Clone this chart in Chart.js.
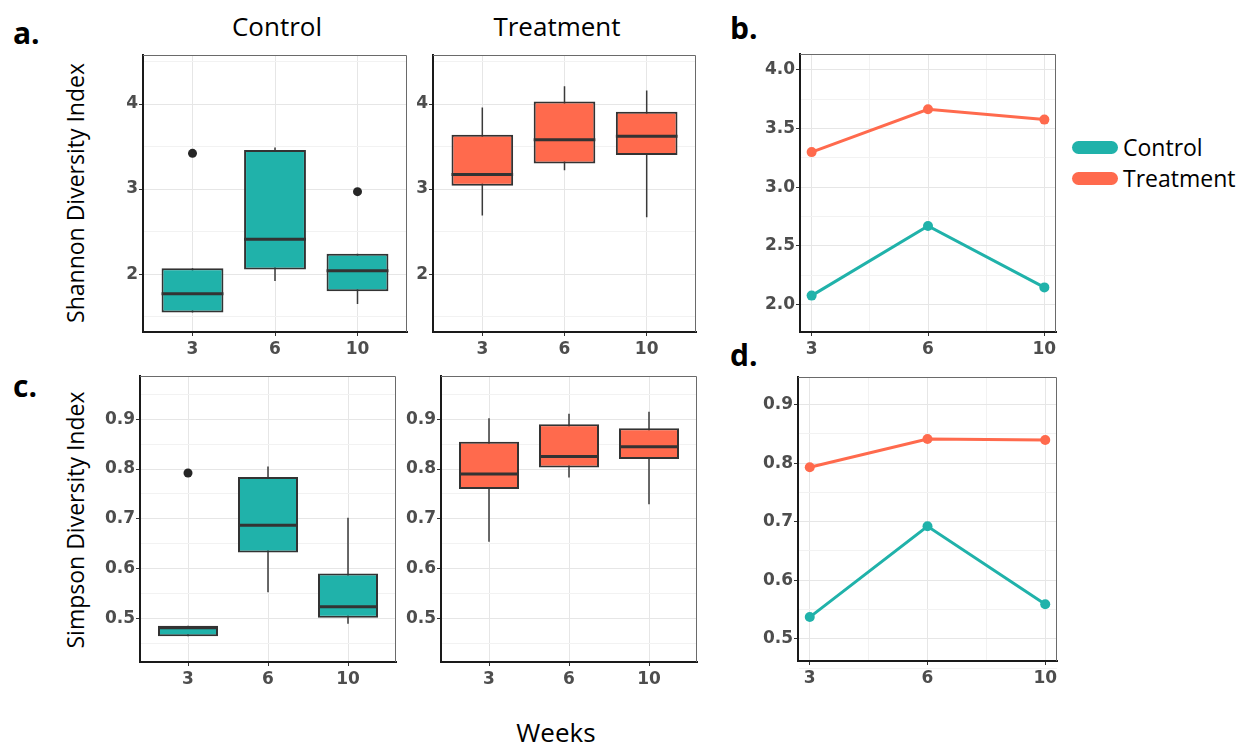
<!DOCTYPE html>
<html>
<head>
<meta charset="UTF-8">
<title>Shannon and Simpson diversity</title>
<script src="https://cdn.jsdelivr.net/npm/chart.js"></script>
<style>
    body {
        margin: 0;
        width: 1247px;
        height: 744px;
        position: relative;
        overflow: hidden;
        background: #fff;
        font-family: "Open Sans", sans-serif;
        color: #000;
    }
    .panel { position: absolute; }
    .txt { position: absolute; line-height: 1; white-space: nowrap; }
    .mid { transform: translate(-50%, -50%); }
    .tag { font-weight: bold; font-size: 30px; }
    .head { font-size: 26px; }
    .ytitle { font-size: 23px; transform: translate(-50%, -50%) rotate(-90deg); }
    .key { position: absolute; width: 46px; height: 13px; border-radius: 7px; }
    .keytxt { font-size: 23px; }
</style>
</head>
<body>
    <div class="txt tag" style="left:13px; top:18px;">a.</div>
    <div class="txt tag" style="left:730px; top:13px;">b.</div>
    <div class="txt tag" style="left:13px; top:371px;">c.</div>
    <div class="txt tag" style="left:730px; top:340px;">d.</div>

    <div class="txt head mid" style="left:277px; top:26px;">Control</div>
    <div class="txt head mid" style="left:557px; top:26px;">Treatment</div>
    <div class="txt ytitle" style="left:75px; top:193px;">Shannon Diversity Index</div>
    <div class="txt ytitle" style="left:75px; top:520px;">Simpson Diversity Index</div>
    <div class="txt head mid" style="left:556px; top:732px;">Weeks</div>

    <div class="key" style="left:1072px; top:141px; background:#20B2AA;"></div>
    <div class="txt keytxt" style="left:1123px; top:136px;">Control</div>
    <div class="key" style="left:1072px; top:172px; background:#FF6A4D;"></div>
    <div class="txt keytxt" style="left:1123px; top:167px;">Treatment</div>

    <div class="panel" id="pA"><canvas id="shanCtrl"></canvas></div>
    <div class="panel" id="pB"><canvas id="shanTreat"></canvas></div>
    <div class="panel" id="pb"><canvas id="shanLine"></canvas></div>
    <div class="panel" id="pC"><canvas id="simpCtrl"></canvas></div>
    <div class="panel" id="pD"><canvas id="simpTreat"></canvas></div>
    <div class="panel" id="pd"><canvas id="simpLine"></canvas></div>

<script>
    // 주차
    const weeks = ['3', '6', '10'];

    // box stats per week: [lower whisker, Q1, median, Q3, upper whisker]
    const shannonControl = [[1.55, 1.55, 1.77, 2.07, 2.07], [1.92, 2.055, 2.41, 3.46, 3.49], [1.65, 1.80, 2.04, 2.24, 2.24]];
    const shannonControlOut = [[0, 3.42], [2, 2.97]];   // [week index, value]
    const shannonTreatment = [[2.69, 3.04, 3.17, 3.64, 3.96], [3.22, 3.30, 3.58, 4.03, 4.21], [2.67, 3.40, 3.62, 3.91, 4.16]];
    const shannonTreatmentOut = [];

    const simpsonControl = [[0.464, 0.464, 0.481, 0.485, 0.485], [0.552, 0.632, 0.687, 0.784, 0.805], [0.489, 0.501, 0.523, 0.590, 0.702]];
    const simpsonControlOut = [[0, 0.792]];
    const simpsonTreatment = [[0.654, 0.760, 0.790, 0.855, 0.902], [0.783, 0.803, 0.825, 0.890, 0.911], [0.729, 0.820, 0.845, 0.882, 0.915]];
    const simpsonTreatmentOut = [];

    // means (panels b, d)
    const shannonMeanControl = [2.077, 2.67, 2.147];
    const shannonMeanTreatment = [3.30, 3.665, 3.577];
    const simpsonMeanControl = [0.537, 0.692, 0.559];
    const simpsonMeanTreatment = [0.793, 0.841, 0.8395];

    // axis ticks
    const shannonBoxTicks = [2, 3, 4];
    const shannonBoxMinor = [1.5, 2.5, 3.5, 4.5];
    const shannonLineTicks = [2.0, 2.5, 3.0, 3.5, 4.0];
    const shannonLineMinor = [2.25, 2.75, 3.25, 3.75];
    const simpsonTicks = [0.5, 0.6, 0.7, 0.8, 0.9];
    const simpsonMinor = [0.45, 0.55, 0.65, 0.75, 0.85, 0.95];
    const weekMinor = [0.5, 1.5];

    const TEAL = '#20B2AA';
    const CORAL = '#FF6A4D';
    const INK = '#333333';
    const tickFont = { family: 'DejaVu Sans', size: 17, weight: 'bold' };
    const tickColor = '#4d4d4d';

    // plot area boxes [left, top, width, height]
    const YW = 60, PAD = 24, XH = 40;
    function place(id, l, t, w, h) {
        const el = document.getElementById(id);
        el.style.left = (l - YW) + 'px';
        el.style.top = (t - PAD) + 'px';
        el.style.width = (w + YW + PAD) + 'px';
        el.style.height = (h + PAD + XH) + 'px';
    }
    place('pA', 143, 55, 264, 277);
    place('pB', 433, 55, 263, 277);
    place('pb', 800, 54, 256, 278);
    place('pC', 140, 376, 256, 286);
    place('pD', 441, 376, 256, 286);
    place('pd', 798, 377, 259, 284);

    // 위/오른쪽 테두리
    const frame = {
        id: 'frame',
        afterDatasetsDraw(chart) {
            const { ctx, chartArea: a } = chart;
            ctx.save();
            ctx.strokeStyle = '#6a6a6a';
            ctx.lineWidth = 1;
            ctx.beginPath();
            ctx.moveTo(a.left, a.top + 0.5);
            ctx.lineTo(a.right - 0.5, a.top + 0.5);
            ctx.lineTo(a.right - 0.5, a.bottom);
            ctx.stroke();
            ctx.restore();
        }
    };

    const isIn = (arr, v) => arr.some(x => Math.abs(x - v) < 1e-9);
    const tv = c => (c && c.tick) ? c.tick.value : NaN;

    function xAxis(min, max, minor) {
        const major = v => Number.isInteger(v);
        return {
            type: 'linear', min: min, max: max, offset: false,
            afterBuildTicks: ax => { ax.ticks = weeks.map((w, i) => i).concat(minor).sort((a, b) => a - b).map(v => ({ value: v })); },
            afterFit: ax => { ax.height = XH; },
            ticks: {
                autoSkip: false, maxRotation: 0, padding: 3, font: tickFont, color: tickColor,
                callback: v => major(v) ? weeks[v] : ''
            },
            grid: {
                offset: false,
                tickLength: 4,
                color: c => major(tv(c)) ? '#e6e6e6' : '#f2f2f2',
                tickColor: c => major(tv(c)) ? INK : 'rgba(0,0,0,0)'
            },
            border: { color: '#1a1a1a', width: 2 }
        };
    }

    function yAxis(min, max, major, minor, fmt) {
        return {
            min: min, max: max,
            afterBuildTicks: ax => { ax.ticks = major.concat(minor).sort((a, b) => a - b).map(v => ({ value: v })); },
            afterFit: ax => { ax.width = YW; },
            ticks: {
                autoSkip: false, padding: 1, font: tickFont, color: tickColor,
                callback: v => isIn(major, v) ? fmt(v) : ''
            },
            grid: {
                tickLength: 4,
                color: c => isIn(major, tv(c)) ? '#e6e6e6' : '#f2f2f2',
                tickColor: c => isIn(major, tv(c)) ? INK : 'rgba(0,0,0,0)'
            },
            border: { color: '#1a1a1a', width: 2 }
        };
    }

    const baseOpts = {
        responsive: true,
        maintainAspectRatio: false,
        animation: false,
        layout: { padding: { top: PAD, right: PAD, left: 0, bottom: 0 } },
        plugins: { legend: { display: false }, tooltip: { enabled: false } }
    };

    function boxChart(id, stats, outliers, fill, yMin, yMax, major, minor, fmt) {
        const BW = 0.75; // 박스 폭 (간격 대비)
        const whiskers = [], medians = [];
        stats.forEach((s, i) => {
            whiskers.push({ x: i, y: s[0] }, { x: i, y: s[4] }, { x: i, y: null });
            medians.push({ x: i - BW / 2, y: s[2] }, { x: i + BW / 2, y: s[2] }, { x: i, y: null });
        });
        new Chart(document.getElementById(id), {
            type: 'bar',
            data: {
                datasets: [
                    { type: 'scatter', data: outliers.map(o => ({ x: o[0], y: o[1] })), pointRadius: 4.5, pointBackgroundColor: '#262626', pointBorderWidth: 0, order: 0 },
                    { type: 'line', data: medians, borderColor: INK, borderWidth: 3, pointRadius: 0, spanGaps: false, order: 1 },
                    {
                        type: 'bar', data: stats.map((s, i) => ({ x: i, y: [s[1], s[3]] })),
                        backgroundColor: fill, borderColor: INK, borderWidth: 2, borderSkipped: false,
                        categoryPercentage: 1, barPercentage: BW, order: 2
                    },
                    { type: 'line', data: whiskers, borderColor: '#3a3a3a', borderWidth: 1.5, pointRadius: 0, spanGaps: false, order: 3 }
                ]
            },
            options: Object.assign({}, baseOpts, {
                scales: { x: xAxis(-0.6, 2.6, []), y: yAxis(yMin, yMax, major, minor, fmt) }
            }),
            plugins: [frame]
        });
    }

    function lineChart(id, ctrl, treat, yMin, yMax, major, minor) {
        const pts = arr => arr.map((v, i) => ({ x: i, y: v }));
        const ds = (arr, col) => ({
            data: pts(arr), borderColor: col, backgroundColor: col, borderWidth: 3,
            pointRadius: 5, pointBackgroundColor: col, pointBorderWidth: 0, tension: 0
        });
        new Chart(document.getElementById(id), {
            type: 'line',
            data: { datasets: [ds(treat, CORAL), ds(ctrl, TEAL)] },
            options: Object.assign({}, baseOpts, {
                scales: { x: xAxis(-0.1, 2.1, weekMinor), y: yAxis(yMin, yMax, major, minor, v => v.toFixed(1)) }
            }),
            plugins: [frame]
        });
    }

    boxChart('shanCtrl', shannonControl, shannonControlOut, TEAL, 1.32, 4.576, shannonBoxTicks, shannonBoxMinor, v => String(v));
    boxChart('shanTreat', shannonTreatment, shannonTreatmentOut, CORAL, 1.32, 4.576, shannonBoxTicks, shannonBoxMinor, v => String(v));
    boxChart('simpCtrl', simpsonControl, simpsonControlOut, TEAL, 0.412, 0.987, simpsonTicks, simpsonMinor, v => v.toFixed(1));
    boxChart('simpTreat', simpsonTreatment, simpsonTreatmentOut, CORAL, 0.412, 0.987, simpsonTicks, simpsonMinor, v => v.toFixed(1));
    lineChart('shanLine', shannonMeanControl, shannonMeanTreatment, 1.767, 4.136, shannonLineTicks, shannonLineMinor);
    lineChart('simpLine', simpsonMeanControl, simpsonMeanTreatment, 0.462, 0.947, simpsonTicks, simpsonMinor.slice(0, 5));
</script>
</body>
</html>
